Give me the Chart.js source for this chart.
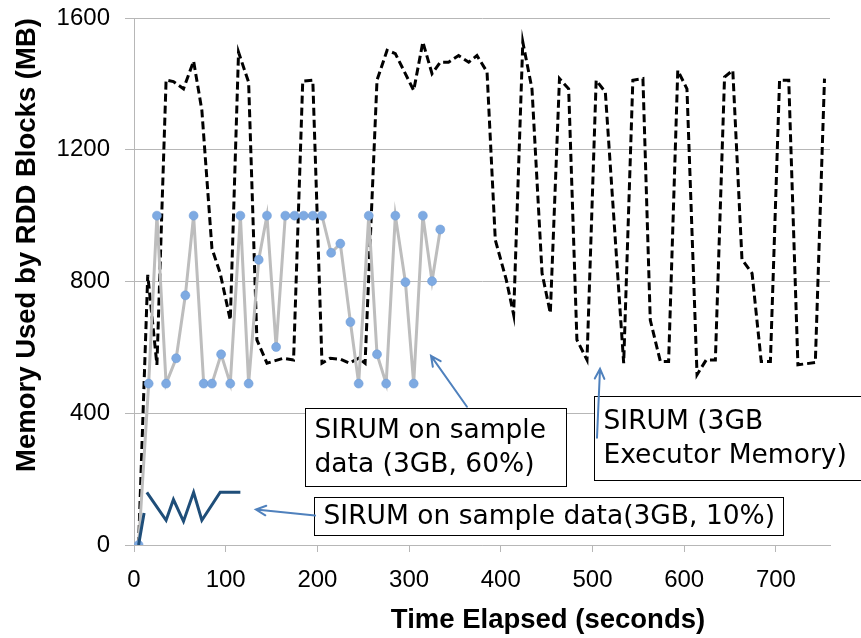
<!DOCTYPE html>
<html>
<head>
<meta charset="utf-8">
<style>
  html, body { margin: 0; padding: 0; background: #fff; }
  #wrap { width: 861px; height: 638px; }
</style>
<script src="https://cdn.jsdelivr.net/npm/chart.js@4.4.0/dist/chart.umd.min.js"></script>
</head>
<body>
<div id="wrap"><canvas id="mem-chart" width="861" height="638"></canvas></div>
<script>
// SIRUM (3GB Executor Memory) - black dashed line
var execTime = [5, 15, 25, 35, 43, 54, 65, 74, 85, 94, 105, 114, 125, 134, 145, 163, 174, 184, 195,
  205, 214, 225, 235, 245, 252, 265, 276, 285, 305, 315, 325, 334, 343, 354, 365, 374, 385,
  394, 406, 414, 424, 434, 445, 454, 464, 474, 483, 494, 504, 514, 534, 544, 555, 563, 574,
  583, 593, 603, 614, 624, 634, 644, 653, 663, 674, 684, 694, 704, 714, 724, 743, 753];
var execMem = [0, 820, 547, 1412, 1407, 1385, 1469, 1320, 900, 825, 683, 1496, 1405, 623, 552, 567, 562, 1408, 1411,
  552, 567, 564, 552, 567, 552, 1411, 1502, 1492, 1380, 1527, 1431, 1466, 1466, 1486, 1466, 1486, 1436,
  926, 805, 699, 1527, 1385, 825, 704, 1416, 1385, 623, 562, 1411, 1375, 552, 1411, 1416, 683, 557,
  557, 1441, 1385, 517, 562, 562, 1421, 1441, 867, 825, 557, 557, 1411, 1411, 547, 554, 1416];

// SIRUM on sample data (3GB, 60%) - grey line with blue markers
var s60Time = [5, 16, 25, 35, 46, 56, 65, 76, 85, 95, 105, 116, 125, 136, 145, 155, 165, 175, 185,
  195, 205, 215, 225, 236, 245, 256, 265, 275, 285, 296, 305, 315, 325, 334];
var s60Mem = [0, 490, 1000, 490, 567, 758, 1000, 490, 490, 579, 490, 1000, 490, 866, 1000, 601, 1000, 1000, 1000,
  1000, 1000, 887, 915, 677, 490, 1000, 579, 490, 1000, 798, 490, 1000, 801, 958];

// SIRUM on sample data (3GB, 10%) - dark blue line (null = gap)
var s10Time = [5, 11, 12, 14, 35, 43, 54, 65, 74, 94, 116];
var s10Mem = [0, 97, null, 160, 75, 138, 72, 160, 75, 160, 160];

var xTicks = [0, 100, 200, 300, 400, 500, 600, 700];
var yTicks = [0, 400, 800, 1200, 1600];

function toPoints(xs, ys) {
  return xs.map(function (x, i) { return { x: x, y: ys[i] }; });
}

// callouts, placed in data units
var callouts = [
  { lines: ['SIRUM on sample', 'data (3GB, 60%)'], box: [186.5, 471, 416.7, 180.3] },
  { lines: ['SIRUM (3GB', 'Executor Memory)'], box: [501.6, 793.9, 453, 198.5] },
  { lines: ['SIRUM on sample data(3GB, 10%)'], box: [196.3, 707.7, 147, 31.8] }
];
var arrows = [
  { from: [363.1, 419.7], to: [323.9, 574.2] },
  { from: [504.9, 325.8], to: [508.2, 534.8] },
  { from: [197.4, 89.4], to: [133.0, 107.6] }
];

var notesPlugin = {
  id: 'notes',
  afterDraw: function (chart) {
    var ctx = chart.ctx;
    var sx = chart.scales.x, sy = chart.scales.y;
    var px = function (v) { return sx.getPixelForValue(v); };
    var py = function (v) { return sy.getPixelForValue(v); };

    ctx.save();
    // boxes
    callouts.forEach(function (c) {
      var l = Math.round(px(c.box[0])) + 0.5, r = Math.round(px(c.box[1])) + 0.5;
      var t = Math.round(py(c.box[2])) + 0.5, b = Math.round(py(c.box[3])) + 0.5;
      ctx.fillStyle = '#fff';
      ctx.fillRect(l, t, r - l, b - t);
      ctx.strokeStyle = '#000';
      ctx.lineWidth = 1;
      ctx.strokeRect(l, t, r - l, b - t);
      ctx.fillStyle = '#000';
      ctx.font = '26.5px "DejaVu Sans"';
      ctx.textAlign = 'left';
      ctx.textBaseline = 'middle';
      var mid = (t + b) / 2;
      var lh = 34;
      c.lines.forEach(function (txt, i) {
        var y = mid + (i - (c.lines.length - 1) / 2) * lh;
        ctx.fillText(txt, l + 9, y + 1);
      });
    });

    // arrows
    ctx.strokeStyle = '#4f81bd';
    ctx.lineWidth = 2;
    ctx.lineCap = 'round';
    arrows.forEach(function (a) {
      var x1 = px(a.from[0]), y1 = py(a.from[1]);
      var x2 = px(a.to[0]), y2 = py(a.to[1]);
      var ang = Math.atan2(y2 - y1, x2 - x1);
      ctx.beginPath();
      ctx.moveTo(x1, y1);
      ctx.lineTo(x2, y2);
      ctx.moveTo(x2 - 11 * Math.cos(ang - 0.45), y2 - 11 * Math.sin(ang - 0.45));
      ctx.lineTo(x2, y2);
      ctx.lineTo(x2 - 11 * Math.cos(ang + 0.45), y2 - 11 * Math.sin(ang + 0.45));
      ctx.stroke();
    });

    // axis titles
    ctx.fillStyle = '#000';
    ctx.font = 'bold 27.5px "Liberation Sans"';
    ctx.textAlign = 'center';
    ctx.textBaseline = 'middle';
    ctx.fillText('Time Elapsed (seconds)', 548, 620);
    ctx.translate(27, 245);
    ctx.rotate(-Math.PI / 2);
    ctx.fillText('Memory Used by RDD Blocks (MB)', 0, 0);
    ctx.restore();
  }
};

var tickFont = { family: 'Liberation Sans', size: 24 };
var gridGrey = '#b7b7b7';

new Chart(document.getElementById('mem-chart'), {
  type: 'line',
  data: {
    datasets: [{
      data: toPoints(s10Time, s10Mem),
      borderColor: '#1f4e79',
      borderWidth: 3,
      pointRadius: 0,
      spanGaps: false,
      order: 0
    }, {
      data: toPoints(s60Time, s60Mem),
      borderColor: '#bdbdbd',
      borderWidth: 3,
      pointRadius: 4.5,
      pointBackgroundColor: '#7eaae2',
      pointBorderColor: '#6b98d4',
      pointBorderWidth: 0.5,
      order: 1
    }, {
      data: toPoints(execTime, execMem),
      borderColor: '#000',
      borderWidth: 3,
      borderDash: [8, 4],
      pointRadius: 0,
      order: 2
    }]
  },
  options: {
    responsive: false,
    animation: false,
    devicePixelRatio: 1,
    layout: { autoPadding: false, padding: { top: 18, right: 31, left: 0, bottom: 0 } },
    elements: { line: { tension: 0 } },
    scales: {
      x: {
        type: 'linear',
        min: 0,
        max: 759,
        afterBuildTicks: function (s) { s.ticks = xTicks.map(function (v) { return { value: v }; }); },
        afterFit: function (s) { s.height = 93; s.paddingLeft = 0; s.paddingRight = 0; },
        grid: { drawOnChartArea: false, tickLength: 7, color: gridGrey },
        border: { color: gridGrey },
        ticks: { font: tickFont, color: '#000', padding: 14, maxRotation: 0, autoSkip: false,
          callback: function (v) { return String(v); } }
      },
      y: {
        min: 0,
        max: 1600,
        afterBuildTicks: function (s) { s.ticks = yTicks.map(function (v) { return { value: v }; }); },
        afterFit: function (s) { s.width = 134; s.paddingTop = 0; s.paddingBottom = 0; },
        grid: { color: gridGrey, tickLength: 9 },
        border: { color: gridGrey },
        ticks: { font: tickFont, color: '#000', padding: 15,
          callback: function (v) { return String(v); } }
      }
    },
    plugins: {
      legend: { display: false },
      tooltip: { enabled: false }
    }
  },
  plugins: [notesPlugin]
});
</script>
</body>
</html>
